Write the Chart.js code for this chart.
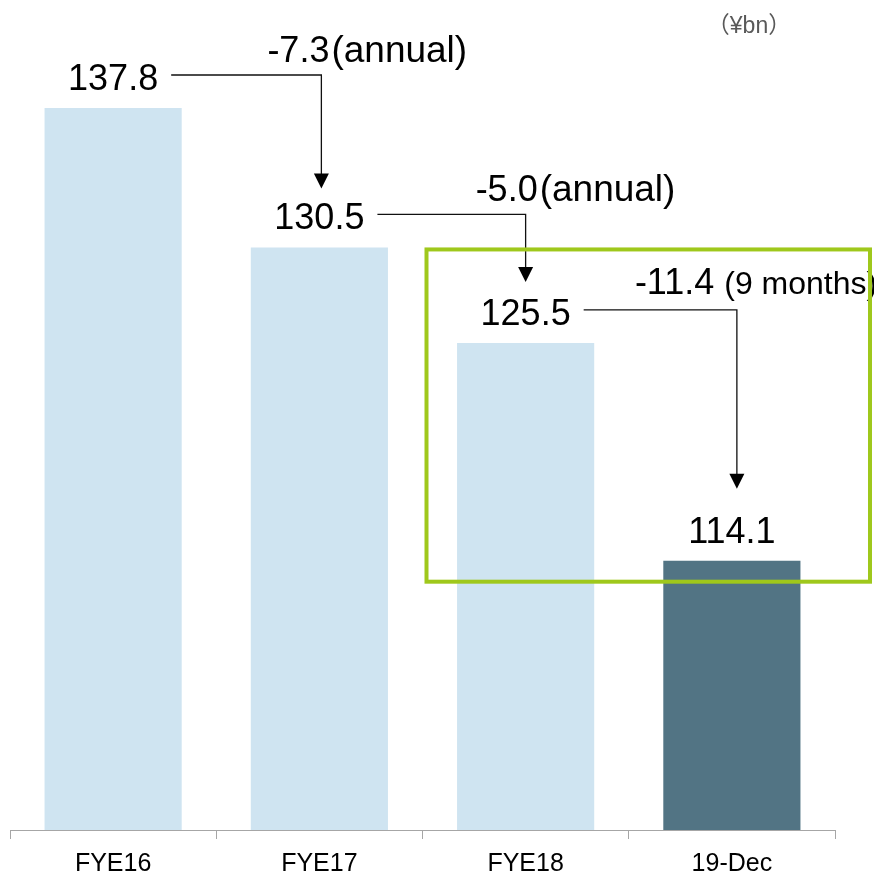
<!DOCTYPE html>
<html>
<head>
<meta charset="utf-8">
<script src="https://cdn.jsdelivr.net/npm/chart.js@4/dist/chart.umd.min.js"></script>
<style>
  html, body { margin: 0; padding: 0; background: #fff; }
  #wrap { width: 874px; height: 874px; }
</style>
</head>
<body>
<div id="wrap"><canvas id="chart"></canvas></div>
<script>
const categories = ['FYE16', 'FYE17', 'FYE18', '19-Dec'];
const values = [137.8, 130.5, 125.5, 114.1];
const changes = ['-7.3', '-5.0', '-11.4'];
const periods = ['(annual)', '(annual)', '(9 months)'];
const unitLabel = '（¥bn）';

const FONT = '"Liberation Sans", Arial, "Noto Sans CJK JP", sans-serif';
const barColors = ['#cfe4f1', '#cfe4f1', '#cfe4f1', '#527484'];

// per-arrow tweaks (x shift of the drop line, gap above next bar, text offset)
const arrowStyle = [
    { dx: 2, tipGap: 59, textLeft: 54, textUp: 13, periodSize: 37, gap: 2 },
    { dx: 0, tipGap: 61, textLeft: 50, textUp: 13, periodSize: 37, gap: 2 },
    { dx: 5, tipGap: 72, textLeft: 102, textUp: 16, periodSize: 32, gap: 10 }
];

const annotations = {
    id: 'annotations',
    afterDatasetsDraw(chart) {
        const ctx = chart.ctx;
        const bars = chart.getDatasetMeta(0).data;
        const y = chart.scales.y;
        ctx.save();

        // value labels
        ctx.fillStyle = '#000';
        ctx.font = '36px ' + FONT;
        ctx.textAlign = 'center';
        ctx.textBaseline = 'alphabetic';
        const widths = [];
        bars.forEach((bar, i) => {
            const txt = values[i].toFixed(1);
            widths.push(ctx.measureText(txt).width);
            ctx.fillText(txt, bar.x, bar.y - 18);
        });

        // connectors with arrows
        for (let i = 0; i < changes.length; i++) {
            const st = arrowStyle[i];
            const from = bars[i], to = bars[i + 1];
            const lineY = from.y - 33;
            const startX = from.x + widths[i] / 2 + 13;
            const lineX = to.x + st.dx;
            const tipY = to.y - st.tipGap;

            ctx.strokeStyle = '#111';
            ctx.lineWidth = 1.3;
            ctx.beginPath();
            ctx.moveTo(startX, lineY);
            ctx.lineTo(lineX, lineY);
            ctx.lineTo(lineX, tipY - 14);
            ctx.stroke();

            ctx.fillStyle = '#000';
            ctx.beginPath();
            ctx.moveTo(lineX - 7.5, tipY - 15);
            ctx.lineTo(lineX + 7.5, tipY - 15);
            ctx.lineTo(lineX, tipY);
            ctx.closePath();
            ctx.fill();

            // change text
            ctx.textAlign = 'left';
            ctx.font = '36px ' + FONT;
            const tx = lineX - st.textLeft;
            const ty = lineY - st.textUp;
            ctx.fillText(changes[i], tx, ty);
            const w = ctx.measureText(changes[i]).width;
            ctx.font = st.periodSize + 'px ' + FONT;
            ctx.fillText(periods[i], tx + w + st.gap, ty);
        }

        // highlight box round the last two bars
        const left = (bars[1].x + bars[2].x) / 2 + 4;
        const right = chart.width - 4;
        const top = y.getPixelForValue(values[1]) + 2;
        const bottom = y.getPixelForValue(values[3]) + 21;
        ctx.strokeStyle = '#9fc81c';
        ctx.lineWidth = 4;
        ctx.strokeRect(left, top, right - left, bottom - top);

        // unit
        ctx.fillStyle = '#595959';
        ctx.font = '23px ' + FONT;
        ctx.textAlign = 'center';
        ctx.fillText(unitLabel, 749, 33);

        ctx.restore();
    }
};

new Chart(document.getElementById('chart'), {
    type: 'bar',
    data: {
        labels: categories,
        datasets: [{
            data: values,
            backgroundColor: barColors,
            borderWidth: 0,
            barPercentage: 0.665,
            categoryPercentage: 1
        }]
    },
    options: {
        responsive: true,
        maintainAspectRatio: false,
        animation: false,
        layout: { padding: { top: 66, left: 10, right: 39, bottom: 0 } },
        plugins: {
            legend: { display: false },
            tooltip: { enabled: false }
        },
        scales: {
            x: {
                afterFit(scale) { scale.height = 44; },
                grid: {
                    display: true,
                    drawOnChartArea: false,
                    drawTicks: true,
                    tickLength: 9,
                    color: '#a6a6a6',
                    offset: true
                },
                border: { color: '#a6a6a6', width: 1 },
                ticks: {
                    color: '#000',
                    padding: 10,
                    font: { family: FONT, size: 25 }
                }
            },
            y: {
                display: false,
                min: 100,
                max: 140
            }
        }
    },
    plugins: [annotations]
});
</script>
</body>
</html>
